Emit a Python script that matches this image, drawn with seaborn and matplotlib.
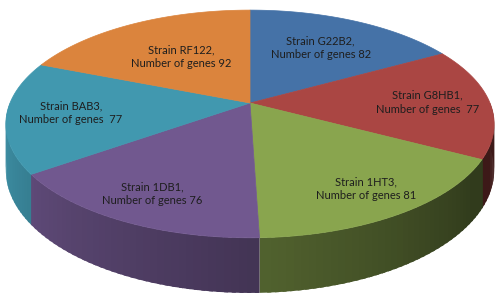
import numpy as np
import matplotlib.pyplot as plt
import seaborn as sns
from matplotlib.colors import to_rgb

# data, clockwise from 12 o'clock
strains = ["G22B2", "G8HB1", "1HT3", "1DB1", "BAB3", "RF122"]
genes = [82, 77, 81, 76, 77, 92]
gaps = [" ", "  ", " ", " ", "  ", " "]
colors = ["#4572A7", "#AA4643", "#89A54E", "#71588F", "#4198AF", "#DB843D"]

# layout of the tilted pie (pixels)
CX, CY = 250, 103
A, B = 240, 110
P = 0.184      # perspective
H = 45         # thickness
label_r = [0.64, 0.74, 0.8, 0.8, 0.74, 0.55]


def proj(u, v):
    w = 1 + P * v
    return CX + A * u / w, CY - B * v / w


def shade(c, t):
    f = np.clip(0.92 - 0.0043 * (t - 195), 0.36, 0.95)
    return tuple(np.array(to_rgb(c)) * f)


sns.set_style("white")
plt.rcParams['font.family'] = ['Lato', 'DejaVu Sans']

fig = plt.figure(figsize=(5, 3.04), dpi=100)
ax = fig.add_axes([0, 0, 1, 1])
ax.set_xlim(0, 500)
ax.set_ylim(304, 0)
ax.axis('off')

total = sum(genes)
bounds = 90 - np.concatenate([[0], np.cumsum(genes)]) / total * 360

# side wall, only the front half (180..360 deg)
strips = []
for i in range(len(genes)):
    a0, a1 = bounds[i + 1], bounds[i]
    ts = np.append(np.arange(a0, a1, 1.5), a1)
    for t0, t1 in zip(ts[:-1], ts[1:]):
        m0 = t0 % 360
        lo = max(m0, 180)
        hi = min(m0 + (t1 - t0), 360)
        if hi <= lo:
            continue
        strips.append((abs((lo + hi) / 2 - 270), lo, hi, colors[i], t1 == a1))

strips.sort(key=lambda s: -s[0])
for _, lo, hi, c, last in strips:
    ext = 0 if last else 0.8
    tt = np.radians([lo, min(hi + ext, 360)])
    x0, y0 = proj(np.cos(tt), np.sin(tt))
    w = 1 + P * np.sin(tt)
    xs = [x0[0], x0[1], x0[1], x0[0]]
    ys = [y0[0], y0[1], y0[1] + H / w[1], y0[0] + H / w[0]]
    col = shade(c, (lo + hi) / 2)
    ax.fill(xs, ys, color=col, lw=0)

# top face
for i in range(len(genes)):
    tt = np.radians(np.linspace(bounds[i], bounds[i + 1], 120))
    x, y = proj(np.cos(tt), np.sin(tt))
    ax.fill(np.r_[CX, x], np.r_[CY, y], color=colors[i], lw=0.5, ec=colors[i])

# labels
for i in range(len(genes)):
    mid = np.radians((bounds[i] + bounds[i + 1]) / 2)
    lx, ly = proj(label_r[i] * np.cos(mid), label_r[i] * np.sin(mid))
    ax.text(lx, ly, f"Strain {strains[i]},\nNumber of genes{gaps[i]}{genes[i]}",
            ha='center', va='center', fontsize=8, color='#1e1e1e',
            linespacing=1.3)

fig.savefig("out.png", dpi=100)
